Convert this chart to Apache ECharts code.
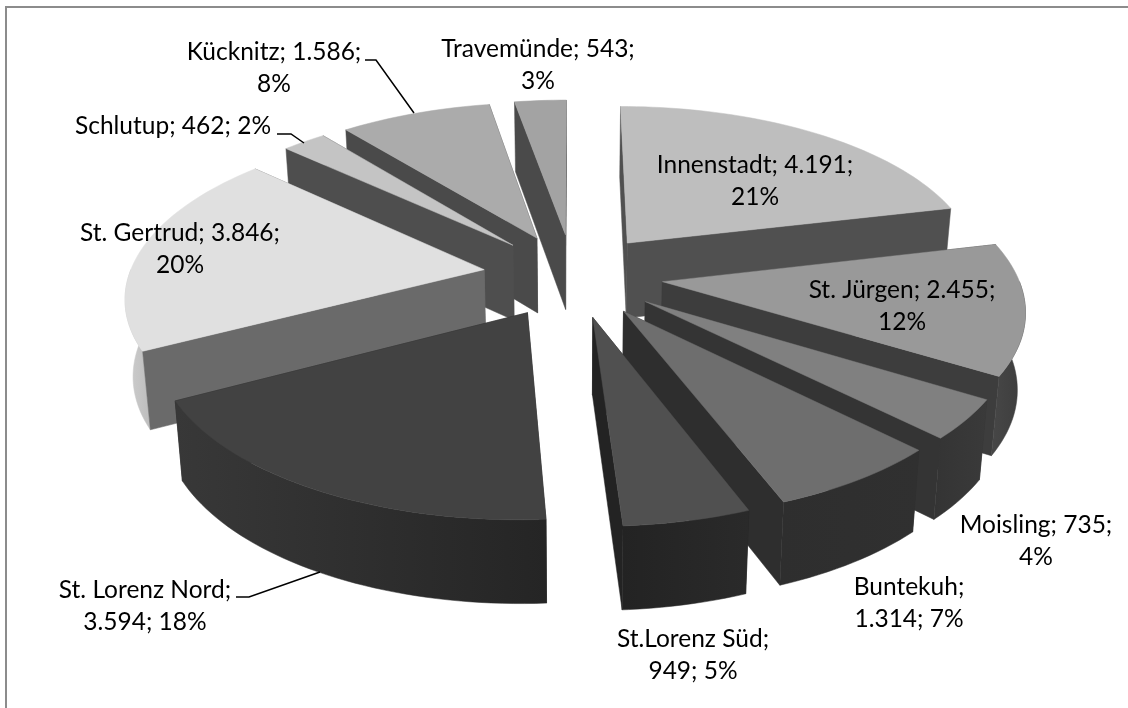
<!DOCTYPE html>
<html>
<head>
<meta charset="utf-8">
<title>Stadtteile</title>
<script src="https://cdn.jsdelivr.net/npm/echarts@6/dist/echarts.min.js"></script>
<style>
  html, body { margin: 0; padding: 0; background: #fff; }
  #chart { width: 1128px; height: 708px; }
</style>
</head>
<body>
<div id="chart"></div>
<script>
// data
const names = ['Innenstadt', 'St. Jürgen', 'Moisling', 'Buntekuh', 'St.Lorenz Süd',
  'St. Lorenz Nord', 'St. Gertrud', 'Schlutup', 'Kücknitz', 'Travemünde'];
const values = [4191, 2455, 735, 1314, 949, 3594, 3846, 462, 1586, 543];
// after which part ("name", "value") the label wraps
const labelBreaks = ['value', 'value', 'value', 'name', 'name', 'name', 'value', 'none', 'value', 'value'];

// styles, one per slice
const topColors = ['#bebebe', '#999999', '#808080', '#6e6e6e', '#505050', '#424242', '#e0e0e0', '#c4c4c4', '#ababab', '#a3a3a3'];
const cutColors = ['#505050', '#3d3d3d', '#343434', '#2e2e2e', '#232323', '#262626', '#6a6a6a', '#4e4e4e', '#4a4a4a', '#4a4a4a'];
const outerColors = [['#666', '#666'], ['#474747', '#3c3c3c'], ['#343434', '#3a3a3a'], ['#2e2e2e', '#303030'], ['#232323', '#2a2a2a'],
  ['#383838', '#252525'], ['#cfcfcf', '#bdbdbd'], ['#777', '#777'], ['#666', '#666'], ['#666', '#666']];
// label centres
const labelPos = [[755, 181], [902, 306], [1036, 541], [909, 603], [693, 655], [145, 606], [180, 249], [173, 126], [274, 68], [538, 65]];
// leader lines
const leaders = [
  [[236, 597], [249, 597], [320, 572]],
  [[277, 134], [291, 134], [304, 143]],
  [[365, 60], [376, 60], [414, 113]]
];

// projection of the tilted pie
const cx = 573, cy = 275, radius = 355, explode = 90;
const squash = 165 / 355, persp = 0.145, depth = 76, bottomShrink = 0.982;

const total = values.reduce((a, b) => a + b, 0);
const rad = Math.PI / 180;

function project(wx, wy, low) {
  const s = 1 / (1 - persp * wy / radius);
  let x = wx * s;
  let y = cy + squash * wy * s;
  if (low) {
    x *= bottomShrink;
    y += depth * Math.sqrt(s);
  }
  return [cx + x, y];
}

// angles of every slice, clockwise from the top
let acc = 0;
const slices = values.map((v, i) => {
  const start = acc / total * 360;
  acc += v;
  const end = acc / total * 360;
  const mid = (start + end) / 2;
  return {
    i, start, end, mid,
    ox: explode * Math.sin(mid * rad),
    oy: -explode * Math.cos(mid * rad)
  };
});

function rim(sl, a) {
  return [sl.ox + radius * Math.sin(a * rad), sl.oy - radius * Math.cos(a * rad)];
}

function poly(points, fill) {
  return { type: 'polygon', shape: { points }, style: { fill, stroke: fill, lineWidth: 0.5 }, silent: true };
}

function cutWall(sl, a, color) {
  const r = rim(sl, a);
  return {
    depthY: (sl.oy + r[1]) / 2,
    el: poly([project(sl.ox, sl.oy), project(r[0], r[1]), project(r[0], r[1], true), project(sl.ox, sl.oy, true)], color)
  };
}

function renderSlice(params, api) {
  const sl = slices[api.value(0)];
  const arc = [];
  for (let a = sl.start; a < sl.end; a += 1.5) arc.push(rim(sl, a));
  arc.push(rim(sl, sl.end));
  const topPts = arc.map(p => project(p[0], p[1]));

  const walls = [
    cutWall(sl, sl.start, cutColors[sl.i]),
    cutWall(sl, sl.end, cutColors[sl.i])
  ];

  // the outer wall only shows on the front half of the rim
  const from = Math.max(sl.start, 90), to = Math.min(sl.end, 270);
  if (to > from) {
    const front = [];
    for (let a = from; a < to; a += 1.5) front.push(rim(sl, a));
    front.push(rim(sl, to));
    const grad = new echarts.graphic.LinearGradient(0, 0, 1, 0, [
      { offset: 0, color: outerColors[sl.i][0] },
      { offset: 1, color: outerColors[sl.i][1] }
    ]);
    walls.push({
      depthY: front.reduce((s, p) => s + p[1], 0) / front.length,
      el: poly(front.map(p => project(p[0], p[1])).concat(front.map(p => project(p[0], p[1], true)).reverse()), grad)
    });
  }
  walls.sort((a, b) => a.depthY - b.depthY);

  const top = poly([project(sl.ox, sl.oy)].concat(topPts), topColors[sl.i]);
  return { type: 'group', children: walls.map(w => w.el).concat([top]) };
}

function fmtValue(v) {
  return String(v).replace(/\B(?=(\d{3})+$)/g, '.');
}

function labelText(i) {
  const v = fmtValue(values[i]);
  const p = Math.round(values[i] / total * 100) + '%';
  if (labelBreaks[i] === 'name') return names[i] + ';\n' + v + '; ' + p;
  if (labelBreaks[i] === 'value') return names[i] + '; ' + v + ';\n' + p;
  return names[i] + '; ' + v + '; ' + p;
}

// back slices first
const drawOrder = slices.slice().sort((a, b) => a.oy - b.oy).map(s => [s.i]);

const labelEls = names.map((n, i) => ({
  type: 'text', x: labelPos[i][0], y: labelPos[i][1], z: 10,
  style: {
    text: labelText(i), fill: '#000', font: '24.5px Lato',
    lineHeight: 32, align: 'center', verticalAlign: 'middle'
  }
}));
const leaderEls = leaders.map(pts => ({
  type: 'polyline', z: 10,
  shape: { points: pts },
  style: { stroke: '#000', lineWidth: 1.5, fill: null }
}));
// the frame only shows along the top and the left
const frameEl = {
  type: 'polyline', z: 0,
  shape: { points: [[6, 708], [6, 7], [1128, 7]] },
  style: { stroke: '#8c8c8c', lineWidth: 2, fill: null }
};

const chart = echarts.init(document.getElementById('chart'));
chart.setOption({
  animation: false,
  backgroundColor: '#fff',
  graphic: { elements: [frameEl].concat(leaderEls, labelEls) },
  series: [{
    type: 'custom',
    coordinateSystem: 'none',
    renderItem: renderSlice,
    encode: { value: 0 },
    data: drawOrder,
    z: 2
  }]
});
</script>
</body>
</html>
